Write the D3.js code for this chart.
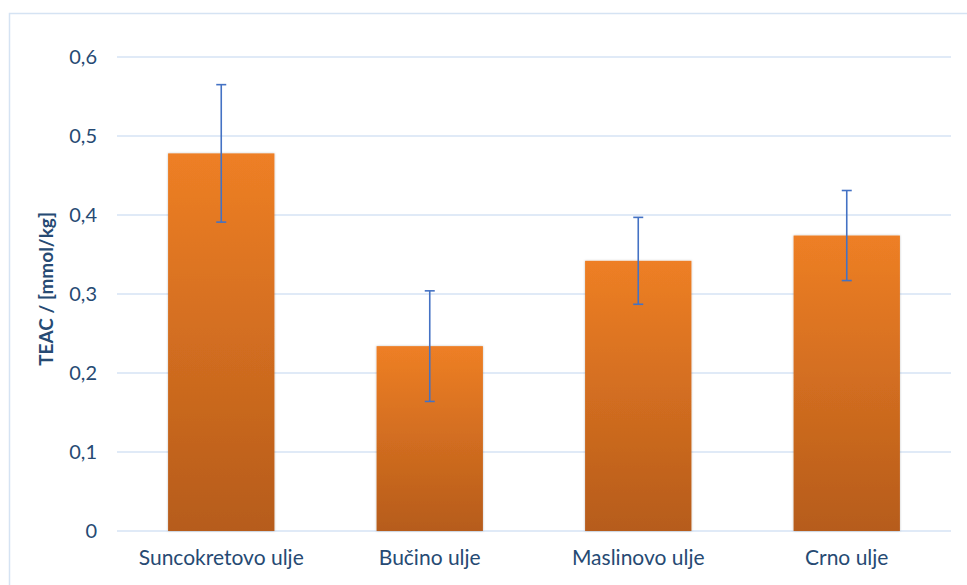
<!DOCTYPE html>
<html>
<head>
<meta charset="utf-8">
<script src="https://cdn.jsdelivr.net/npm/d3@7"></script>
<style>
  body { margin: 0; background: #fff; }
  text { font-family: Lato, "Open Sans", sans-serif; }
</style>
</head>
<body>
<div class="canvas"></div>
<script>
const categories = ['Suncokretovo ulje', 'Bučino ulje', 'Maslinovo ulje', 'Crno ulje']
const values = [0.478, 0.234, 0.342, 0.374]
const errors = [0.087, 0.070, 0.055, 0.057]
const yTicks = [0, 0.1, 0.2, 0.3, 0.4, 0.5, 0.6]

const dims = { width: 967, height: 585 }
const margin = { top: 57, right: 16, bottom: 54, left: 117 }
const inner = {
    w: dims.width - margin.left - margin.right,
    h: dims.height - margin.top - margin.bottom
}

const svg = d3.select('.canvas')
    .append('svg')
    .attr('width', dims.width)
    .attr('height', dims.height)

// outer frame
svg.append('rect')
    .attr('x', 9.5).attr('y', 13.5)
    .attr('width', dims.width).attr('height', dims.height)
    .attr('fill', 'none')
    .attr('stroke', '#d5e3f3')
    .attr('stroke-width', 1.5)

const defs = svg.append('defs')
const grad = defs.append('linearGradient')
    .attr('id', 'barGrad')
    .attr('x1', 0).attr('y1', 0).attr('x2', 0).attr('y2', 1)
grad.append('stop').attr('offset', '0%').attr('stop-color', '#ee7f25')
grad.append('stop').attr('offset', '100%').attr('stop-color', '#b65c1b')

const shadow = defs.append('filter').attr('id', 'shadow')
    .attr('x', '-10%').attr('y', '-10%').attr('width', '120%').attr('height', '120%')
shadow.append('feDropShadow')
    .attr('dx', 0).attr('dy', 0).attr('stdDeviation', 1.2)
    .attr('flood-color', '#000').attr('flood-opacity', 0.25)

const graph = svg.append('g')
    .attr('transform', `translate(${margin.left}, ${margin.top})`)

const x = d3.scaleBand()
    .domain(categories)
    .range([0, inner.w])
    .paddingInner(0.49)
    .paddingOuter(0.245)

const y = d3.scaleLinear()
    .domain([0, 0.6])
    .range([inner.h, 0])

// gridlines
graph.append('g')
    .selectAll('line')
    .data(yTicks)
    .enter().append('line')
        .attr('x1', 0).attr('x2', inner.w)
        .attr('y1', d => y(d)).attr('y2', d => y(d))
        .attr('stroke', '#d6e3f4')
        .attr('stroke-width', 1.3)

const fmt = d => d === 0 ? '0' : d3.format('.1f')(d).replace('.', ',')

const yAxis = d3.axisLeft(y).tickValues(yTicks).tickFormat(fmt).tickSize(0).tickPadding(20)
const yG = graph.append('g').call(yAxis)
yG.select('.domain').remove()
yG.selectAll('text')
    .attr('fill', '#264a73')
    .style('font-size', '20px')

const xAxis = d3.axisBottom(x).tickSize(0).tickPadding(19)
const xG = graph.append('g')
    .attr('transform', `translate(0, ${inner.h})`)
    .call(xAxis)
xG.select('.domain').remove()
xG.selectAll('text')
    .attr('fill', '#264a73')
    .style('font-size', '21px')

// bars
graph.selectAll('rect.bar')
    .data(values)
    .enter().append('rect')
        .attr('class', 'bar')
        .attr('x', (d, i) => x(categories[i]))
        .attr('y', d => y(d))
        .attr('width', x.bandwidth())
        .attr('height', d => inner.h - y(d))
        .attr('fill', 'url(#barGrad)')
        .attr('filter', 'url(#shadow)')

// error bars
const eb = graph.selectAll('g.err')
    .data(values)
    .enter().append('g')
        .attr('class', 'err')
        .attr('transform', (d, i) => `translate(${x(categories[i]) + x.bandwidth() / 2}, 0)`)

eb.append('line')
    .attr('y1', (d, i) => y(d + errors[i]))
    .attr('y2', (d, i) => y(d - errors[i]))
    .attr('stroke', '#4472c4').attr('stroke-width', 1.6)
eb.each(function(d, i) {
    const g = d3.select(this)
    ;[d + errors[i], d - errors[i]].forEach(v => {
        g.append('line')
            .attr('x1', -5).attr('x2', 5)
            .attr('y1', y(v)).attr('y2', y(v))
            .attr('stroke', '#4472c4').attr('stroke-width', 1.6)
    })
})

// y axis title
svg.append('text')
    .attr('transform', `translate(53, ${margin.top + inner.h / 2 - 5}) rotate(-90)`)
    .attr('text-anchor', 'middle')
    .attr('fill', '#264a73')
    .style('font-size', '19px')
    .style('font-weight', 'bold')
    .text('TEAC / [mmol/kg]')
</script>
</body>
</html>
